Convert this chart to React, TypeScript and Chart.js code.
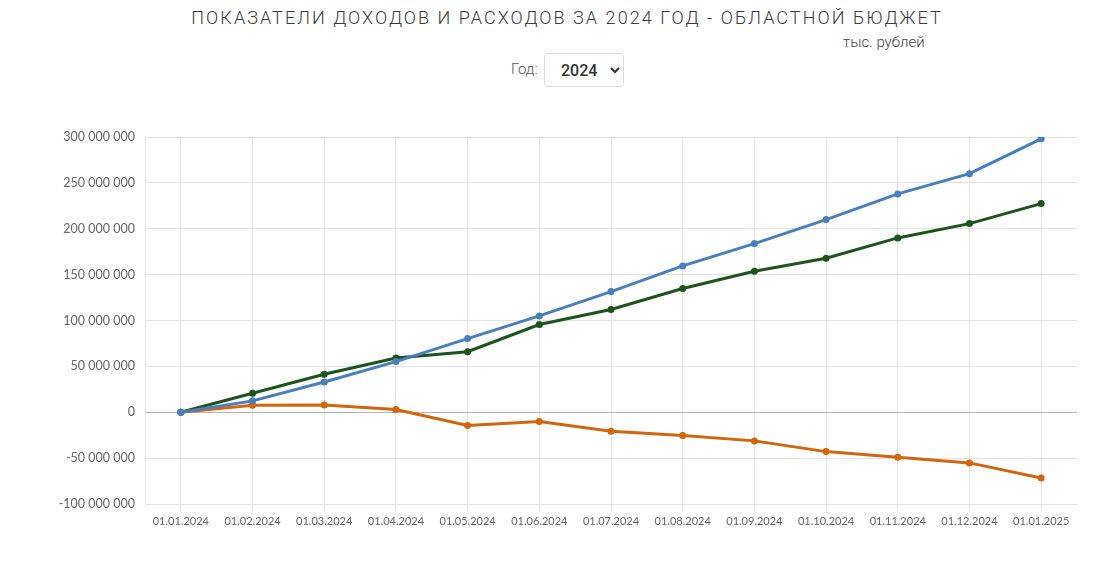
import React, { useEffect, useRef } from "react";
import { Chart, registerables } from "chart.js";

Chart.register(...registerables);

const categories = [
  "01.01.2024", "01.02.2024", "01.03.2024", "01.04.2024", "01.05.2024", "01.06.2024",
  "01.07.2024", "01.08.2024", "01.09.2024", "01.10.2024", "01.11.2024", "01.12.2024", "01.01.2025",
];

// расходы (blue)
const expenses = [0, 12400000, 33000000, 55200000, 80300000, 105000000, 131500000, 159500000, 183800000, 210000000, 238000000, 260000000, 298000000];
// доходы (green)
const incomes = [0, 20700000, 41400000, 59200000, 66000000, 95600000, 112000000, 134800000, 153700000, 167800000, 190000000, 205600000, 227400000];
// дефицит/профицит (orange)
const balance = [0, 7600000, 7900000, 2900000, -14500000, -10200000, -20700000, -25400000, -31200000, -42900000, -49000000, -55200000, -71600000];

const yTicks = [-100000000, -50000000, 0, 50000000, 100000000, 150000000, 200000000, 250000000, 300000000];

const fmt = (v: number) => {
  const s = Math.abs(Math.round(v)).toString().replace(/\B(?=(\d{3})+(?!\d))/g, " ");
  return (v < 0 ? "-" : "") + s;
};

export default function App() {
  const ref = useRef<HTMLCanvasElement | null>(null);

  useEffect(() => {
    if (!ref.current) return;
    const mk = (label: string, data: number[], color: string) => ({
      label,
      data,
      borderColor: color,
      backgroundColor: color,
      borderWidth: 3,
      pointRadius: 3.5,
      pointBorderWidth: 0,
      pointBackgroundColor: color,
      tension: 0,
      fill: false,
    });
    const chart = new Chart(ref.current, {
      type: "line",
      data: {
        labels: categories,
        datasets: [
          mk("Расходы", expenses, "#4a7fbd"),
          mk("Дефицит", balance, "#d0670f"),
          mk("Доходы", incomes, "#1d531c"),
        ],
      },
      options: {
        animation: false,
        responsive: false,
        maintainAspectRatio: false,
        layout: { padding: { top: 20, right: 20, bottom: 0, left: 0 } },
        plugins: { legend: { display: false }, tooltip: { enabled: false }, title: { display: false } },
        scales: {
          x: {
            offset: true,
            grid: { offset: false, color: "#e3e3e3", drawTicks: true, tickLength: 8 },
            border: { display: true, color: "#e3e3e3" },
            ticks: { color: "#666", font: { family: "Lato", size: 11 }, padding: 3, maxRotation: 0, autoSkip: false },
            afterFit: (s: any) => { s.height = 30; },
          },
          y: {
            min: -100000000,
            max: 300000000,
            afterBuildTicks: (s: any) => { s.ticks = yTicks.map((v) => ({ value: v })); },
            grid: {
              drawTicks: false,
              color: (ctx: any) => (ctx.tick && ctx.tick.value === 0 ? "#b5b5b5" : "#e3e3e3"),
            },
            border: { display: true, color: "#e3e3e3" },
            ticks: { color: "#666", font: { family: "Lato", size: 12.5 }, padding: 10, callback: (v: any) => fmt(Number(v)) },
            afterFit: (s: any) => { s.width = 137; },
          },
        },
      },
    });
    return () => chart.destroy();
  }, []);

  return (
    <div style={{ position: "relative", width: 1099, height: 546, fontFamily: "Roboto, sans-serif" }}>
      <div
        style={{
          position: "absolute", left: 0, top: 0, width: 1118, textAlign: "center",
          fontSize: 18, letterSpacing: 2.05, color: "#3c3c3c", lineHeight: "20px", fontWeight: 300,
        }}
      >
        ПОКАЗАТЕЛИ ДОХОДОВ И РАСХОДОВ ЗА 2024 ГОД - ОБЛАСТНОЙ БЮДЖЕТ
      </div>
      <div style={{ position: "absolute", left: 835, top: 25, fontSize: 15, color: "#444", lineHeight: "18px", fontWeight: 300 }}>
        тыс. рублей
      </div>
      <div style={{ position: "absolute", left: 503, top: 52, fontSize: 15, color: "#555", lineHeight: "18px", fontWeight: 300 }}>
        Год:
      </div>
      <select
        defaultValue="2024"
        style={{
          position: "absolute", left: 536, top: 45, width: 80, height: 34,
          border: "1px solid #ddd", borderRadius: 4, background: "#fff",
          fontFamily: "Roboto, sans-serif", fontSize: 16, fontWeight: 500, color: "#333",
          paddingLeft: 12,
        }}
      >
        <option value="2024">2024</option>
      </select>
      <canvas
        ref={ref}
        width={1089}
        height={417}
        style={{ position: "absolute", left: 0, top: 109, width: 1089, height: 417 }}
      />
    </div>
  );
}
